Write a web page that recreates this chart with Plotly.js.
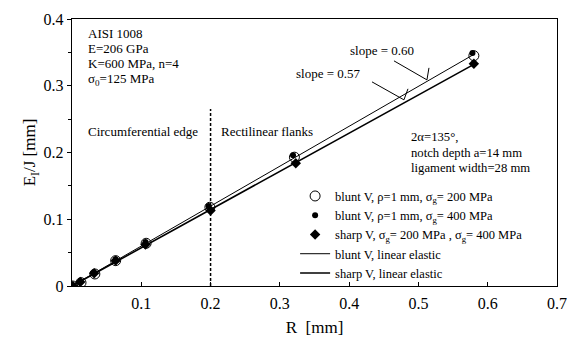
<!DOCTYPE html>
<html>
<head>
<meta charset="utf-8">
<script src="https://cdn.plot.ly/plotly-3.0.1.min.js"></script>
<style>html,body{margin:0;padding:0;background:#fff;}#chart{width:567px;height:337px;}</style>
</head>
<body>
<div id="chart"></div>
<script>
// Data
const bluntR200 = [0.001, 0.013, 0.033, 0.063, 0.107, 0.199, 0.321, 0.580];
const bluntY200 = [0.000, 0.005, 0.018, 0.038, 0.064, 0.118, 0.193, 0.345];
const bluntR400 = [0.001, 0.012, 0.031, 0.063, 0.106, 0.197, 0.319, 0.578];
const bluntY400 = [0.001, 0.006, 0.020, 0.040, 0.066, 0.120, 0.196, 0.349];
const sharpR = [0.001, 0.012, 0.032, 0.063, 0.106, 0.200, 0.323, 0.580];
const sharpY = [0.000, 0.006, 0.019, 0.038, 0.062, 0.113, 0.184, 0.333];
const bluntLineR = [0, 0.580];
const bluntLineY = [0, 0.347];
const sharpLineR = [0, 0.580];
const sharpLineY = [0, 0.332];
const xTickVals = [0.1, 0.2, 0.3, 0.4, 0.5, 0.6, 0.7];
const xTickText = ["0.1", "0.2", "0.3", "0.4", "0.5", "0.6", "0.7"];
const yTickVals = [0, 0.1, 0.2, 0.3, 0.4];
const yTickText = ["0", "0.1", "0.2", "0.3", "0.4"];
const legendNames = [
  "blunt V, ρ=1 mm, σ<sub>g</sub>= 200 MPa",
  "blunt V, ρ=1 mm, σ<sub>g</sub>= 400 MPa",
  "sharp V, σ<sub>g</sub>= 200 MPa , σ<sub>g</sub>= 400 MPa",
  "blunt V, linear elastic",
  "sharp V, linear elastic"
];
const materialText = ["AISI 1008", "E=206 GPa", "K=600 MPa, n=4", "σ<sub>0</sub>=125 MPa"];
const geomText = ["2α=135°,", "notch depth a=14 mm", "ligament width=28 mm"];

const FONT = "Liberation Serif, Times New Roman, serif";

const traces = [
  {x: bluntLineR, y: bluntLineY, mode: "lines", name: legendNames[3], legendgroup: "b", legendrank: 4,
   line: {color: "#000", width: 1}},
  {x: sharpLineR, y: sharpLineY, mode: "lines", name: legendNames[4], legendgroup: "b", legendrank: 5,
   line: {color: "#000", width: 1.6}},
  {x: bluntR200, y: bluntY200, mode: "markers", name: legendNames[0], legendgroup: "a", legendrank: 1,
   marker: {symbol: "circle-open", size: 10, color: "#000", line: {width: 1, color: "#000"}}},
  {x: bluntR400, y: bluntY400, mode: "markers", name: legendNames[1], legendgroup: "a", legendrank: 2,
   marker: {symbol: "circle", size: 6, color: "#000"}},
  {x: sharpR, y: sharpY, mode: "markers", name: legendNames[2], legendgroup: "a", legendrank: 3,
   marker: {symbol: "diamond", size: 8, color: "#000"}}
];

const annotations = [];
const matY = [0.379, 0.356, 0.333, 0.309];
materialText.forEach((t, i) => annotations.push({x: 0.020, y: matY[i], xref: "x", yref: "y",
  text: t, showarrow: false, xanchor: "left", yanchor: "middle", font: {family: FONT, size: 13, color: "#000"}}));
const geoY = [0.2234, 0.1994, 0.1769];
geomText.forEach((t, i) => annotations.push({x: 0.4860, y: geoY[i], xref: "x", yref: "y",
  text: t, showarrow: false, xanchor: "left", yanchor: "middle", font: {family: FONT, size: 12.7, color: "#000"}}));
annotations.push({x: 0.020, y: 0.231, xref: "x", yref: "y", text: "Circumferential edge", showarrow: false,
  xanchor: "left", yanchor: "middle", font: {family: FONT, size: 13, color: "#000"}});
annotations.push({x: 0.2115, y: 0.231, xref: "x", yref: "y", text: "Rectilinear flanks", showarrow: false,
  xanchor: "left", yanchor: "middle", font: {family: FONT, size: 13, color: "#000"}});
annotations.push({x: 0.4467, y: 0.3523, xref: "x", yref: "y", text: "slope = 0.60", showarrow: false,
  xanchor: "center", yanchor: "middle", font: {family: FONT, size: 13, color: "#000"}});
annotations.push({x: 0.3702, y: 0.3178, xref: "x", yref: "y", text: "slope = 0.57", showarrow: false,
  xanchor: "center", yanchor: "middle", font: {family: FONT, size: 13, color: "#000"}});

const shapes = [
  {type: "line", xref: "x", yref: "y", x0: 0.2, x1: 0.2, y0: 0, y1: 0.265,
   line: {color: "#000", width: 1.5, dash: "3px,2px"}},
  {type: "line", xref: "x", yref: "y", x0: 0.4647, y0: 0.3373, x1: 0.5123, y1: 0.3088, line: {color: "#000", width: 1}},
  {type: "line", xref: "x", yref: "y", x0: 0.5152, y0: 0.3268, x1: 0.5123, y1: 0.3088, line: {color: "#000", width: 1}},
  {type: "line", xref: "x", yref: "y", x0: 0.4330, y0: 0.3058, x1: 0.4791, y1: 0.2789, line: {color: "#000", width: 1}},
  {type: "line", xref: "x", yref: "y", x0: 0.4849, y0: 0.2954, x1: 0.4791, y1: 0.2789, line: {color: "#000", width: 1}}
];

const layout = {
  width: 567, height: 337,
  margin: {l: 72, r: 10, t: 19, b: 51},
  paper_bgcolor: "#fff", plot_bgcolor: "#fff",
  font: {family: FONT, color: "#000"},
  showlegend: true,
  legend: {x: 0.460, y: 0.392, xanchor: "left", yanchor: "top", bgcolor: "rgba(0,0,0,0)",
    font: {family: FONT, size: 12.5, color: "#000"}, traceorder: "grouped", tracegroupgap: 0,
    itemwidth: 30},
  xaxis: {range: [0, 0.7], tickvals: xTickVals, ticktext: xTickText, ticks: "inside", ticklen: 4,
    tickcolor: "#000", showline: true, linecolor: "#000", linewidth: 1.2, mirror: true, showgrid: false,
    zeroline: false, tickfont: {family: FONT, size: 16}, ticklabelstandoff: 3,
    title: {text: "R  [mm]", font: {family: FONT, size: 17}, standoff: 10}},
  yaxis: {range: [0, 0.4], tickvals: yTickVals, ticktext: yTickText, ticks: "outside", ticklen: 4,
    tickcolor: "#000", showline: true, linecolor: "#000", linewidth: 1.2, mirror: true, showgrid: false,
    zeroline: false, tickfont: {family: FONT, size: 16},
    minor: {dtick: 0.05, ticks: "outside", ticklen: 3, tickcolor: "#000", showgrid: false},
    title: {text: "E<sub>I</sub>/J [mm]", font: {family: FONT, size: 17}, standoff: 3}},
  annotations: annotations,
  shapes: shapes
};

Plotly.newPlot("chart", traces, layout, {displayModeBar: false, staticPlot: true});
</script>
</body>
</html>
